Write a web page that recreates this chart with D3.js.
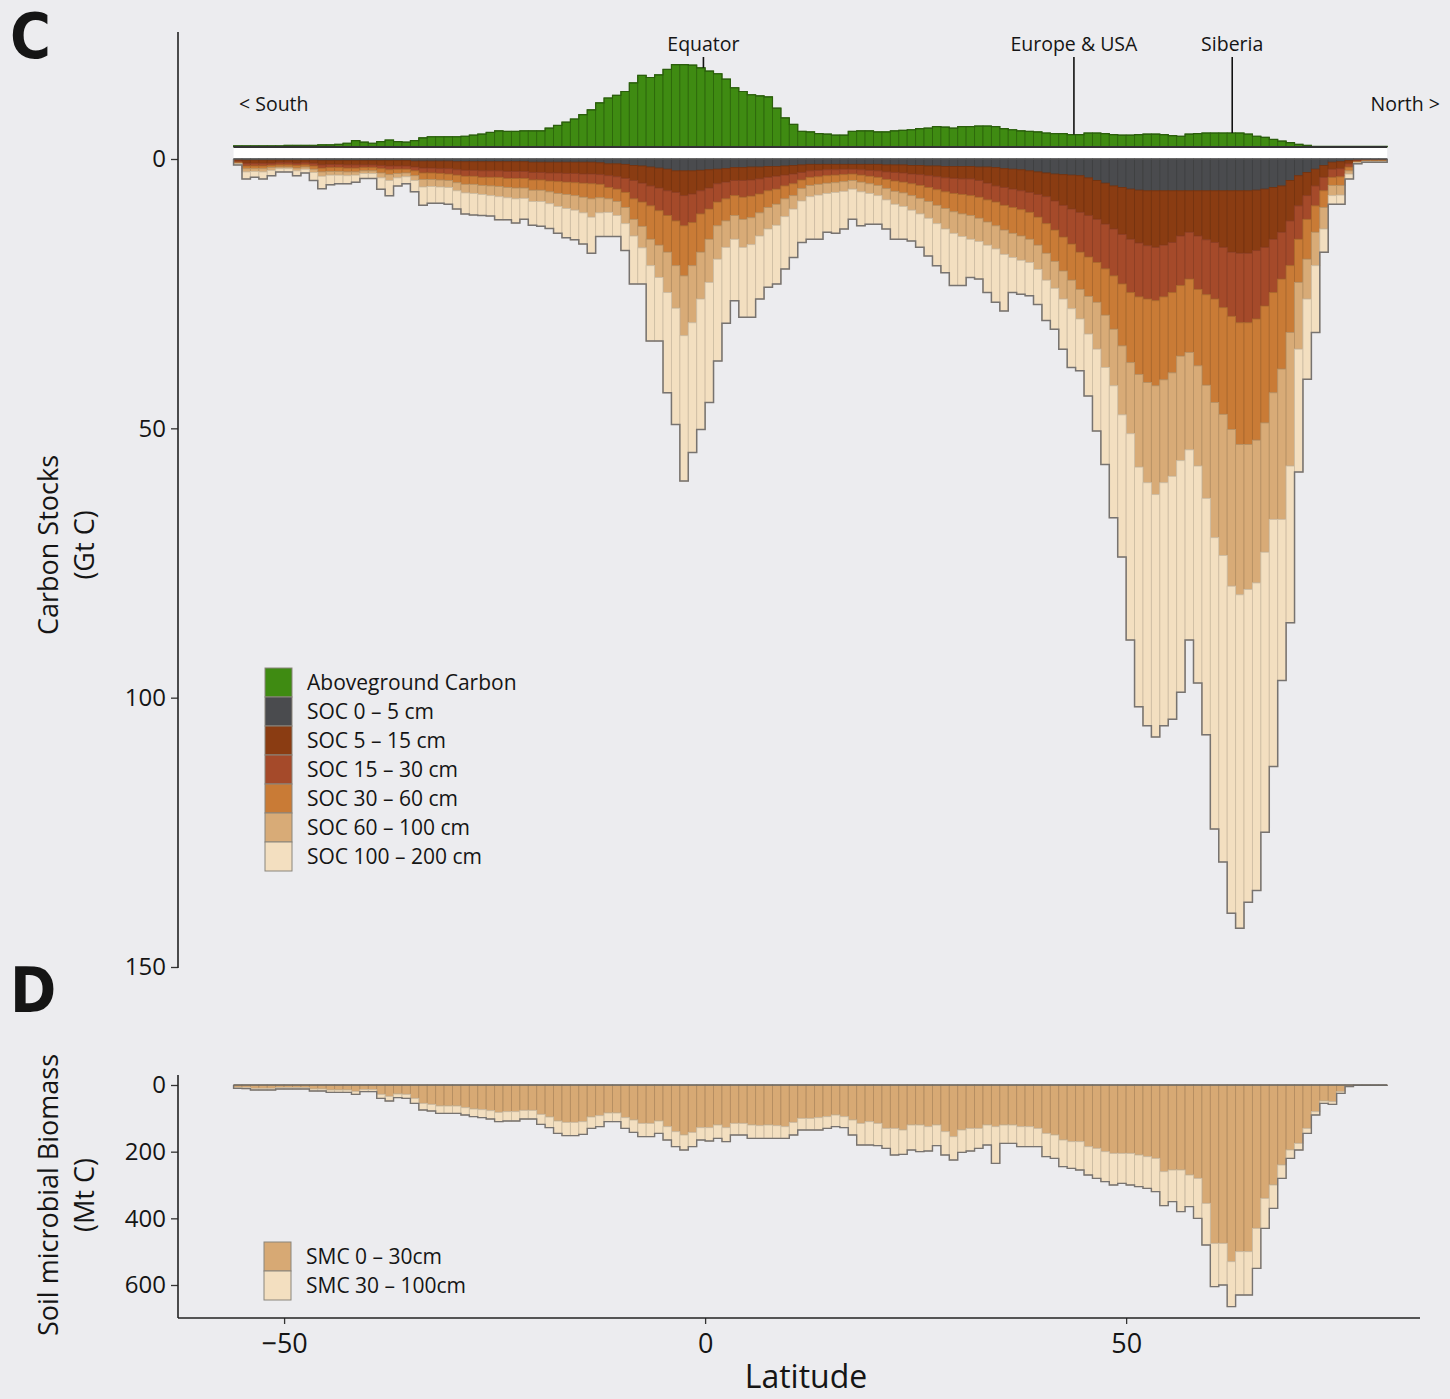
<!DOCTYPE html>
<html>
<head>
<meta charset="utf-8">
<script src="https://cdn.jsdelivr.net/npm/d3@7"></script>
<style>
  body { margin: 0; background: #ececef; }
  text { font-family: "Open Sans", "DejaVu Sans", sans-serif; fill: #151515; }
  .panel-letter { font-family: "Liberation Sans Narrow", "DejaVu Sans Condensed", sans-serif; font-weight: 700; }
</style>
</head>
<body>
<script>
// latitude bins (left edge, 1 degree each)
const latitudes = d3.range(-56, 81);

const aboveground = [
  .2,.2,.2,.2,.2,.2,.3,.3,.3,.3,
  .4,.4,.5,.7,1.2,.9,.7,1.0,1.3,1.0,
  .9,1.2,1.7,1.9,1.9,1.9,1.9,2.0,2.2,2.4,
  2.7,3.0,2.9,2.9,3.0,3.0,3.0,3.5,4.0,4.6,
  5.2,6.0,6.9,8.2,9.1,9.6,10.3,11.9,13.3,12.9,
  13.4,14.4,15.3,15.3,15.2,14.7,14.1,13.6,12.6,11.0,
  10.3,9.7,9.5,9.3,7.2,5.4,4.2,2.9,2.8,2.5,
  2.4,2.2,2.2,2.9,3.0,3.0,2.8,2.8,3.0,3.1,
  3.2,3.4,3.5,3.8,3.7,3.5,3.8,3.8,3.9,3.9,
  3.8,3.4,3.2,3.0,2.9,2.8,2.6,2.5,2.5,2.3,
  2.3,2.6,2.6,2.5,2.3,2.2,2.2,2.3,2.4,2.4,
  2.3,2.1,2.0,2.4,2.5,2.6,2.6,2.6,2.6,2.6,
  2.4,2.0,1.8,1.4,1.1,0.8,0.5,0.3,0.1,0.1,
  0.1,0.1,0.1,0.1,0.1,0.1,0.1
];

const soc0_5 = [
  .1,.2,.2,.2,.2,.2,.2,.2,.2,.2,
  .3,.3,.3,.3,.3,.3,.3,.3,.3,.3,
  .3,.4,.4,.4,.4,.4,.5,.5,.5,.5,
  .5,.5,.5,.5,.5,.6,.6,.6,.6,.6,
  .6,.6,.6,.7,.9,.9,1.0,1.2,1.3,1.5,
  1.7,1.9,2.2,2.2,2.2,2.1,2.0,1.9,1.8,1.6,
  1.6,1.5,1.5,1.4,1.4,1.3,1.2,1.1,1.0,1.0,
  1.0,1.0,1.0,1.0,1.0,1.0,1.0,1.1,1.1,1.1,
  1.2,1.2,1.3,1.3,1.4,1.4,1.4,1.4,1.5,1.5,
  1.6,1.8,1.9,2.0,2.2,2.4,2.6,2.8,2.9,3.0,
  3.1,3.5,4.0,4.5,5.0,5.3,5.6,5.8,5.9,5.9,
  5.9,5.9,5.9,5.9,5.9,5.9,5.9,5.9,5.9,5.9,
  5.9,5.8,5.6,5.3,5.0,4.0,3.1,2.5,1.9,1.2,
  .6,.5,.3,.1,.1,.1,.1
];

const soc5_15 = [
  .3,.6,.6,.6,.6,.5,.5,.6,.5,.6,
  .8,.7,.7,.8,.8,.8,.8,.9,1.0,1.0,
  1.0,1.1,1.3,1.3,1.4,1.4,1.5,1.6,1.6,1.7,
  1.7,1.7,1.8,1.8,1.8,1.9,1.9,2.0,2.0,2.1,
  2.1,2.2,2.2,2.2,2.2,2.4,2.6,2.8,3.2,3.5,
  3.7,4.0,4.0,4.6,4.3,3.8,3.4,2.7,2.5,2.4,
  2.4,2.4,2.2,2.0,1.8,1.7,1.6,1.4,1.2,1.1,
  1.0,1.0,.9,.9,1.0,1.1,1.2,1.3,1.4,1.5,
  1.6,1.7,1.8,2.0,2.1,2.2,2.3,2.3,2.5,3.0,
  3.4,3.5,3.7,3.9,4.0,4.2,4.4,5.0,5.7,6.3,
  6.8,7.0,7.2,7.6,8.0,8.7,9.3,9.8,10.2,10.5,
  10.1,9.6,8.4,7.7,8.4,9.1,9.6,10.5,11.4,11.6,
  11.6,11.2,10.8,9.6,8.6,7.5,5.6,4.3,3.1,2.2,
  1.3,1.3,.6,.2,.1,.1,.1
];

const soc15_30 = [
  .2,.5,.5,.5,.4,.4,.4,.4,.4,.5,
  .6,.6,.6,.6,.6,.5,.5,.6,.7,.6,
  .6,.7,.9,.9,.9,1.0,1.0,1.1,1.1,1.2,
  1.2,1.2,1.3,1.3,1.3,1.4,1.4,1.5,1.6,1.6,
  1.7,1.7,1.8,1.8,2.2,2.3,2.6,3.4,3.5,3.7,
  4.2,4.6,5.3,5.6,5.3,4.3,3.9,3.4,3.1,2.8,
  3.1,3.0,2.8,2.5,2.4,2.0,1.8,1.4,1.2,1.2,
  1.1,1.0,1.0,.9,1.0,1.1,1.2,1.4,1.6,1.7,
  1.8,2.0,2.2,2.4,2.6,2.8,2.9,3.1,3.1,3.1,
  3.0,3.3,3.4,3.5,3.7,4.2,5.0,5.4,5.9,6.5,
  7.4,7.7,8.0,8.3,8.7,9.2,9.9,10.0,9.9,9.9,
  9.6,9.3,9.2,8.7,9.9,10.2,10.5,11.2,11.9,12.9,
  12.9,12.7,10.9,9.9,8.7,8.3,6.2,4.4,3.7,2.5,
  1.5,1.5,.6,.2,.1,.1,.1
];

const soc30_60 = [
  .2,.5,.5,.5,.4,.4,.4,.5,.4,.6,
  .7,.7,.7,.7,.7,.6,.6,.8,.9,.8,
  .7,.9,1.2,1.2,1.2,1.2,1.4,1.5,1.5,1.5,
  1.6,1.7,1.7,1.8,1.8,1.9,1.9,2.0,2.2,2.3,
  2.4,2.6,2.8,2.5,2.1,2.3,2.8,3.8,4.5,6.2,
  6.4,6.8,8.3,9.3,8.0,7.1,5.6,4.4,4.1,3.7,
  4.1,4.0,3.5,3.1,2.8,2.4,2.2,1.6,1.5,1.4,
  1.4,1.4,1.3,1.2,1.3,1.4,1.5,1.7,1.9,2.0,
  2.2,2.4,2.6,2.9,3.1,3.4,3.6,3.7,3.9,4.1,
  4.4,4.6,4.8,4.9,5.0,5.2,5.5,5.8,6.3,6.7,
  6.9,7.3,7.4,8.6,9.9,11.5,13.0,14.4,15.5,15.8,
  15.4,14.9,13.1,13.6,14.2,16.8,19.2,19.8,21.0,22.6,
  22.6,22.5,21.7,18.6,16.7,12.4,8.0,7.4,4.9,3.1,
  1.5,1.6,.7,.1,.1,.1,.1
];

const soc60_100 = [
  .1,.6,.5,.6,.5,.3,.3,.5,.4,.6,
  .8,.7,.7,.7,.6,.5,.5,.9,1.1,.8,
  .7,.9,1.4,1.3,1.3,1.3,1.5,1.6,1.7,1.7,
  1.8,1.9,1.9,2.0,1.9,2.1,2.1,2.2,2.4,2.6,
  2.7,2.9,3.4,2.8,2.5,2.6,3.0,3.1,4.0,4.9,
  6.0,7.5,7.9,11.1,10.6,8.7,8.0,6.2,4.9,4.4,
  5.2,5.0,4.3,4.0,3.9,3.3,2.5,2.3,2.1,2.0,
  1.9,1.8,1.8,1.6,1.8,1.8,1.9,2.1,2.4,2.5,
  2.7,2.9,3.1,3.4,3.8,4.0,4.2,4.4,4.3,4.3,
  4.3,4.5,4.5,4.5,4.3,4.5,5.0,5.0,5.2,5.3,
  5.5,7.0,8.7,9.7,10.5,12.8,13.2,17.2,18.6,20.2,
  19.1,19.2,19.4,18.1,18.6,21.0,25.1,26.2,29.1,27.9,
  26.9,26.5,24.0,23.5,27.9,24.8,12.4,7.4,6.2,4.0,
  1.9,1.8,.6,.1,.1,.1,.1
];

const soc100_200 = [
  .2,1.3,1.1,1.3,1.0,.6,.6,.9,.7,1.5,
  2.3,1.8,1.6,1.5,1.3,.9,.9,2.1,2.8,1.5,
  1.3,2.1,3.4,3.1,3.0,3.1,3.4,3.9,4.0,3.9,
  3.8,4.3,4.1,4.5,3.9,4.4,4.6,4.6,5.0,5.4,
  5.5,5.8,6.7,4.4,4.5,3.9,5.0,8.9,6.7,14.0,
  11.8,18.6,21.6,27.0,24.1,24.2,22.3,18.9,14.1,11.4,
  13.0,13.5,11.7,10.8,10.9,9.7,9.0,7.7,7.9,8.2,
  7.2,7.6,7.0,5.6,6.3,5.7,5.3,5.4,6.5,6.1,
  5.7,6.2,7.0,7.8,8.1,9.7,9.1,7.1,7.0,8.8,
  9.9,10.5,6.5,6.3,6.2,6.5,7.5,7.6,9.3,10.9,
  9.6,11.5,15.2,18.0,24.5,26.4,38.3,44.5,45.1,45.0,
  45.1,45.1,43.0,35.3,40.3,43.9,54.1,56.9,60.7,61.9,
  58.1,57.1,52.0,45.9,29.9,29.1,22.8,14.9,12.4,4.3,
  1.6,1.7,.9,.2,.1,.1,.1
];

const smc0_30 = [
  7,7,10,10,10,8,8,8,8,12,
  12,15,15,15,19,14,14,28,34,27,
  28,40,55,58,63,63,63,68,72,74,
  77,82,80,80,76,76,88,96,108,112,
  112,110,96,92,84,84,98,105,115,115,
  108,125,140,150,142,128,128,120,128,115,
  115,120,122,120,122,125,112,100,100,98,
  95,90,95,105,115,110,115,130,130,135,
  120,120,125,120,140,155,135,130,130,120,
  125,120,120,125,125,130,145,150,165,170,
  170,185,190,200,205,205,205,210,215,220,
  260,255,255,270,280,355,475,475,530,500,
  500,430,340,300,240,195,175,130,80,48,
  50,20,4,1,1,1,1
];

const smc30_100 = [
  3,4,5,5,5,4,4,4,4,6,
  6,7,7,7,9,6,6,12,14,11,
  12,15,20,20,22,22,22,22,23,24,
  25,28,28,28,26,26,30,32,37,40,
  40,38,34,33,26,26,32,37,40,40,
  37,40,45,45,43,37,40,40,42,35,
  35,40,38,40,38,35,38,35,35,37,
  35,35,33,45,65,70,67,60,80,73,
  75,80,73,62,70,70,67,68,60,60,
  110,55,55,60,60,55,70,70,80,80,
  85,85,90,90,95,90,95,95,95,100,
  102,95,125,95,120,125,130,125,135,130,
  130,120,90,70,40,25,20,15,10,7,
  8,5,1,0,0,0,0
];

const socLabels = ["SOC 0 \u2013 5 cm", "SOC 5 \u2013 15 cm", "SOC 15 \u2013 30 cm",
                   "SOC 30 \u2013 60 cm", "SOC 60 \u2013 100 cm", "SOC 100 \u2013 200 cm"];
const smcLabels = ["SMC 0 \u2013 30cm", "SMC 30 \u2013 100cm"];
const socTicks = [0, 50, 100, 150];
const smcTicks = [0, 200, 400, 600];
const latTicks = [-50, 0, 50];
const annotations = [
  { label: "Equator", lat: -0.2 },
  { label: "Europe & USA", lat: 43.8 },
  { label: "Siberia", lat: 62.6 }
];

const greenColor = "#3f8b12";
const socColors = ["#4a4b4e", "#8a3c12", "#a54a2a", "#c97b36", "#d8ab77", "#f3dfc0"];
const smcColors = ["#d7a974", "#f3dfc0"];

const width = 1450;
const height = 1399;

const svg = d3.select("body")
    .append("svg")
    .attr("width", width)
    .attr("height", height);

svg.append("rect")
    .attr("width", width)
    .attr("height", height)
    .attr("fill", "#ececef");

const x = d3.scaleLinear().domain([-62.6, 84.9]).range([178, 1420]);
const ySoc = d3.scaleLinear().domain([0, 150]).range([159, 967]);
const yAbove = d3.scaleLinear().domain([0, 150]).range([147, 147 - 808]);
const ySmc = d3.scaleLinear().domain([0, 600]).range([1085, 1285]);

const lastLat = latitudes[latitudes.length - 1] + 1;
const barW = lat => x(lat + 1) - x(lat);

const envelope = (totals, yScale) => {
    const pts = [[x(latitudes[0]), yScale(0)]];
    latitudes.forEach((lat, i) => {
        pts.push([x(lat), yScale(totals[i])]);
        pts.push([x(lat + 1), yScale(totals[i])]);
    });
    pts.push([x(lastLat), yScale(0)]);
    return d3.line()(pts);
};

const buildStack = (keys, series) => {
    const rows = latitudes.map((lat, i) => {
        const r = { lat };
        keys.forEach((k, j) => r[k] = series[j][i]);
        return r;
    });
    return d3.stack().keys(keys)(rows);
};

// ---------- panel C: aboveground carbon (upwards) ----------
svg.append("g")
    .selectAll("rect")
    .data(latitudes)
    .join("rect")
    .attr("x", d => x(d))
    .attr("width", d => barW(d))
    .attr("y", (d, i) => yAbove(aboveground[i]))
    .attr("height", (d, i) => yAbove(0) - yAbove(aboveground[i]))
    .attr("fill", greenColor)
    .attr("stroke", "#2d680b")
    .attr("stroke-width", 0.9);

svg.append("path")
    .attr("d", envelope(aboveground, yAbove))
    .attr("fill", "none")
    .attr("stroke", "#2b5e0c")
    .attr("stroke-width", 1.2);

// white band between the two halves
svg.append("rect")
    .attr("x", x(latitudes[0]))
    .attr("y", yAbove(0))
    .attr("width", x(lastLat) - x(latitudes[0]))
    .attr("height", ySoc(0) - yAbove(0))
    .attr("fill", "#ffffff");

svg.append("line")
    .attr("x1", x(latitudes[0])).attr("x2", x(lastLat))
    .attr("y1", yAbove(0)).attr("y2", yAbove(0))
    .attr("stroke", "#333").attr("stroke-width", 2);

// ---------- panel C: soil organic carbon (downwards) ----------
const socKeys = ["s0", "s1", "s2", "s3", "s4", "s5"];
const socStack = buildStack(socKeys, [soc0_5, soc5_15, soc15_30, soc30_60, soc60_100, soc100_200]);

svg.append("g")
    .selectAll("g")
    .data(socStack)
    .join("g")
    .attr("fill", (d, i) => socColors[i])
    .attr("stroke", (d, i) => d3.color(socColors[i]).darker(0.45))
    .attr("stroke-width", 0.9)
    .selectAll("rect")
    .data(d => d)
    .join("rect")
    .attr("x", d => x(d.data.lat))
    .attr("width", d => barW(d.data.lat))
    .attr("y", d => ySoc(d[0]))
    .attr("height", d => ySoc(d[1]) - ySoc(d[0]));

const socTotals = socStack[socStack.length - 1].map(d => d[1]);
svg.append("path")
    .attr("d", envelope(socTotals, ySoc))
    .attr("fill", "none")
    .attr("stroke", "#777370")
    .attr("stroke-width", 1.5);

svg.append("line")
    .attr("x1", x(latitudes[0])).attr("x2", x(lastLat))
    .attr("y1", ySoc(0)).attr("y2", ySoc(0))
    .attr("stroke", "#555").attr("stroke-width", 1.5);

// ---------- panel D: soil microbial carbon ----------
const smcStack = buildStack(["m0", "m1"], [smc0_30, smc30_100]);

svg.append("g")
    .selectAll("g")
    .data(smcStack)
    .join("g")
    .attr("fill", (d, i) => smcColors[i])
    .attr("stroke", (d, i) => d3.color(smcColors[i]).darker(0.5))
    .attr("stroke-width", 0.9)
    .selectAll("rect")
    .data(d => d)
    .join("rect")
    .attr("x", d => x(d.data.lat))
    .attr("width", d => barW(d.data.lat))
    .attr("y", d => ySmc(d[0]))
    .attr("height", d => ySmc(d[1]) - ySmc(d[0]));

const smcTotals = smcStack[1].map(d => d[1]);
svg.append("path")
    .attr("d", envelope(smcTotals, ySmc))
    .attr("fill", "none")
    .attr("stroke", "#777370")
    .attr("stroke-width", 1.4);

svg.append("line")
    .attr("x1", x(latitudes[0])).attr("x2", x(lastLat))
    .attr("y1", ySmc(0)).attr("y2", ySmc(0))
    .attr("stroke", "#6a6763").attr("stroke-width", 1.5);

// ---------- axes ----------
const styleAxis = (g, size) => {
    g.select(".domain").remove();
    g.selectAll(".tick line").attr("stroke", "#333").attr("stroke-width", 1.3);
    g.selectAll(".tick text")
        .attr("font-family", "'Open Sans', sans-serif")
        .attr("font-size", size)
        .attr("fill", "#1a1a1a");
};

svg.append("g")
    .attr("transform", "translate(178,0)")
    .call(d3.axisLeft(ySoc).tickValues(socTicks).tickSize(7).tickPadding(5))
    .call(g => styleAxis(g, 24));

svg.append("g")
    .attr("transform", "translate(178,0)")
    .call(d3.axisLeft(ySmc).tickValues(smcTicks).tickSize(7).tickPadding(5))
    .call(g => styleAxis(g, 24));

svg.append("g")
    .attr("transform", "translate(0,1318)")
    .call(d3.axisBottom(x).tickValues(latTicks).tickSize(6).tickPadding(10))
    .call(g => styleAxis(g, 27));

const axisLine = (x1, y1, x2, y2) => svg.append("line")
    .attr("x1", x1).attr("y1", y1).attr("x2", x2).attr("y2", y2)
    .attr("stroke", "#222").attr("stroke-width", 1.6);

axisLine(178, 32, 178, 968);
axisLine(178, 1075, 178, 1318);
axisLine(178, 1318, 1420, 1318);

// axis titles
const vTitle = (xPos, yPos, text) => svg.append("text")
    .attr("transform", `translate(${xPos},${yPos}) rotate(-90)`)
    .attr("text-anchor", "middle")
    .attr("font-size", 27)
    .text(text);

vTitle(58, 545, "Carbon Stocks");
vTitle(94, 545, "(Gt C)");
vTitle(58, 1195, "Soil microbial Biomass");
vTitle(94, 1195, "(Mt C)");

svg.append("text")
    .attr("x", 806).attr("y", 1388)
    .attr("text-anchor", "middle")
    .attr("font-size", 32)
    .text("Latitude");

// panel letters
svg.append("text").attr("class", "panel-letter")
    .attr("x", 10).attr("y", 58).attr("font-size", 62).text("C");
svg.append("text").attr("class", "panel-letter")
    .attr("x", 10).attr("y", 1012).attr("font-size", 62).text("D");

// annotations
const binIndex = lat => latitudes.indexOf(Math.floor(lat));
annotations.forEach(a => {
    const xp = x(a.lat);
    svg.append("text")
        .attr("x", xp).attr("y", 51)
        .attr("text-anchor", "middle")
        .attr("font-size", 19.5)
        .text(a.label);
    svg.append("line")
        .attr("x1", xp).attr("x2", xp)
        .attr("y1", 57).attr("y2", yAbove(aboveground[binIndex(a.lat)]))
        .attr("stroke", "#111").attr("stroke-width", 1.6);
});

svg.append("text")
    .attr("x", 239).attr("y", 111)
    .attr("font-size", 19.5)
    .text("< South");

svg.append("text")
    .attr("x", 1440).attr("y", 111)
    .attr("text-anchor", "end")
    .attr("font-size", 19.5)
    .text("North >");

// legends
const legend = (x0, y0, colors, labels) => {
    const g = svg.append("g").attr("transform", `translate(${x0},${y0})`);
    colors.forEach((c, i) => {
        g.append("rect")
            .attr("x", 0).attr("y", i * 29)
            .attr("width", 27).attr("height", 29)
            .attr("fill", c)
            .attr("stroke", "#8a857c")
            .attr("stroke-width", 1);
        g.append("text")
            .attr("x", 42).attr("y", i * 29 + 22)
            .attr("font-size", 21)
            .text(labels[i]);
    });
};

legend(265, 668, [greenColor, ...socColors], ["Aboveground Carbon", ...socLabels]);
legend(264, 1242, smcColors, smcLabels);
</script>
</body>
</html>
